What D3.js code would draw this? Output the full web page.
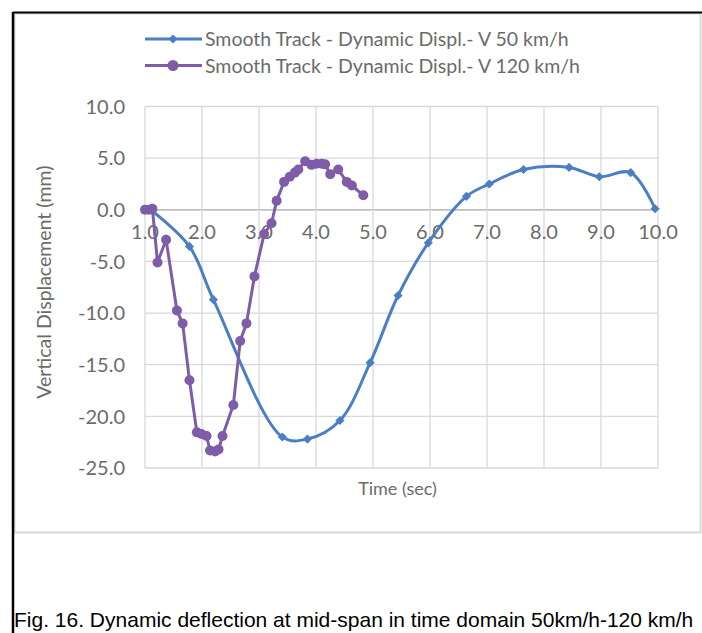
<!DOCTYPE html>
<html>
<head>
<meta charset="utf-8">
<script src="https://cdn.jsdelivr.net/npm/d3@7"></script>
<style>
  body { margin: 0; background: #fff; }
  svg { display: block; font-family: Lato, "Open Sans", sans-serif; }
</style>
</head>
<body>
<div id="chart"></div>
<script>
// series (time in s, displacement in mm)
var t50 = [1.10, 1.78, 2.20, 3.41, 3.85, 4.42, 4.95, 5.44, 5.97, 6.64, 7.04, 7.64, 8.44, 8.97, 9.52, 9.95];
var v50 = [0.0, -3.55, -8.7, -22.0, -22.2, -20.4, -14.8, -8.3, -3.2, 1.3, 2.5, 3.9, 4.1, 3.2, 3.6, 0.1];

var t120 = [1.00, 1.07, 1.13, 1.22, 1.37, 1.56, 1.66, 1.78, 1.91, 1.99, 2.08, 2.14, 2.23, 2.29, 2.36,
            2.55, 2.67, 2.78, 2.92, 3.09, 3.22, 3.31, 3.44, 3.54, 3.63, 3.69, 3.81, 3.92, 4.01, 4.10,
            4.16, 4.25, 4.39, 4.54, 4.63, 4.83];
var v120 = [0.0, 0.0, 0.1, -5.1, -2.9, -9.75, -11.0, -16.5, -21.55, -21.7, -21.9, -23.3, -23.4, -23.2, -21.9,
            -18.9, -12.7, -11.0, -6.45, -2.35, -1.3, 0.87, 2.7, 3.2, 3.6, 3.9, 4.7, 4.35, 4.45, 4.45,
            4.4, 3.45, 3.9, 2.7, 2.35, 1.4];

var xTicks = [1, 2, 3, 4, 5, 6, 7, 8, 9, 10];
var yTicks = [10, 5, 0, -5, -10, -15, -20, -25];

var seriesNames = ["Smooth Track - Dynamic Displ.- V 50 km/h", "Smooth Track - Dynamic Displ.- V 120 km/h"];
var blue = "#4a7fc3", purple = "#7e5ca8";

var width = 702, height = 633;

// Excel style labels with a plain hyphen
function fmt(d) { return d.toFixed(1); }

var svg = d3.select("#chart").append("svg")
  .attr("width", width)
  .attr("height", height);

// outer figure frame (black, top + left) and chart box (light gray)
svg.append("rect")
  .attr("x", 14.5).attr("y", 13.5).attr("width", 686).attr("height", 519)
  .attr("fill", "none").attr("stroke", "#d9d9d9").attr("stroke-width", 2);
svg.append("line").attr("x1", 13).attr("x2", 702).attr("y1", 12.5).attr("y2", 12.5)
  .attr("stroke", "#000").attr("stroke-width", 2);
svg.append("line").attr("x1", 13).attr("x2", 13).attr("y1", 12).attr("y2", 633)
  .attr("stroke", "#000").attr("stroke-width", 2.5);

var x = d3.scaleLinear().domain([1, 10]).range([145, 658]);
var y = d3.scaleLinear().domain([-25, 10]).range([468, 106.5]);

// gridlines
svg.append("g").selectAll("line").data(yTicks).enter().append("line")
  .attr("x1", x(1)).attr("x2", x(10))
  .attr("y1", function (d) { return y(d); }).attr("y2", function (d) { return y(d); })
  .attr("stroke", function (d) { return d === 0 ? "#bfbfbf" : "#d9d9d9"; })
  .attr("stroke-width", function (d) { return d === 0 ? 1.8 : 1.3; });

svg.append("g").selectAll("line").data(xTicks).enter().append("line")
  .attr("y1", y(10)).attr("y2", y(-25))
  .attr("x1", function (d) { return x(d); }).attr("x2", function (d) { return x(d); })
  .attr("stroke", "#d9d9d9").attr("stroke-width", 1.3);

// tick labels
svg.append("g").selectAll("text").data(yTicks).enter().append("text")
  .attr("x", 125).attr("y", function (d) { return y(d); })
  .attr("dy", "0.36em")
  .attr("text-anchor", "end")
  .attr("fill", "#6b6b6b").style("font-size", "20px")
  .text(fmt);

svg.append("g").selectAll("text").data(xTicks).enter().append("text")
  .attr("x", function (d) { return x(d); }).attr("y", y(0) + 29)
  .attr("text-anchor", "middle")
  .attr("fill", "#6b6b6b").style("font-size", "20px")
  .text(fmt);

// axis titles
svg.append("text")
  .attr("transform", "translate(51," + ((y(10) + y(-25)) / 2 - 5) + ") rotate(-90)")
  .attr("text-anchor", "middle")
  .attr("fill", "#6b6b6b").style("font-size", "19.5px")
  .text("Vertical Displacement (mm)");

svg.append("text")
  .attr("x", (x(1) + x(10)) / 2 - 4).attr("y", 495)
  .attr("text-anchor", "middle")
  .attr("fill", "#6b6b6b").style("font-size", "18px")
  .text("Time (sec)");

// series 50 km/h - smoothed line with diamonds
var d50 = t50.map(function (t, i) { return [t, v50[i]]; });
var d120 = t120.map(function (t, i) { return [t, v120[i]]; });

var smooth = d3.line()
  .x(function (d) { return x(d[0]); })
  .y(function (d) { return y(d[1]); })
  .curve(d3.curveCatmullRom.alpha(0.5));

var straight = d3.line()
  .x(function (d) { return x(d[0]); })
  .y(function (d) { return y(d[1]); });

svg.append("path").datum(d50)
  .attr("d", smooth)
  .attr("fill", "none").attr("stroke", blue).attr("stroke-width", 3);

var diamond = d3.symbol().type(d3.symbolSquare).size(42);

svg.append("g").selectAll("path").data(d50).enter().append("path")
  .attr("d", diamond)
  .attr("transform", function (d) { return "translate(" + x(d[0]) + "," + y(d[1]) + ") rotate(45)"; })
  .attr("fill", blue);

// series 120 km/h - straight line with circles
svg.append("path").datum(d120)
  .attr("d", straight)
  .attr("fill", "none").attr("stroke", purple).attr("stroke-width", 3);

svg.append("g").selectAll("circle").data(d120).enter().append("circle")
  .attr("cx", function (d) { return x(d[0]); })
  .attr("cy", function (d) { return y(d[1]); })
  .attr("r", 5)
  .attr("fill", purple);

// legend
var legend = svg.append("g").selectAll("g").data(seriesNames).enter().append("g")
  .attr("transform", function (d, i) { return "translate(0," + (39 + i * 26.5) + ")"; });

legend.append("line")
  .attr("x1", 145).attr("x2", 202)
  .attr("stroke", function (d, i) { return i ? purple : blue; })
  .attr("stroke-width", 3);

legend.each(function (d, i) {
  var g = d3.select(this);
  if (i === 0) {
    g.append("path").attr("d", diamond).attr("transform", "translate(173,0) rotate(45)").attr("fill", blue);
  } else {
    g.append("circle").attr("cx", 173).attr("r", 5.5).attr("fill", purple);
  }
});

legend.append("text")
  .attr("x", 205).attr("dy", "0.36em")
  .attr("fill", "#6b6b6b").style("font-size", "19.5px")
  .text(function (d) { return d; });

// caption
svg.append("text")
  .attr("x", 14).attr("y", 627)
  .style("font-family", "'Liberation Sans', Arial, sans-serif")
  .style("font-size", "21px")
  .attr("fill", "#000")
  .text("Fig. 16. Dynamic deflection at mid-span in time domain 50km/h-120 km/h");
</script>
</body>
</html>
